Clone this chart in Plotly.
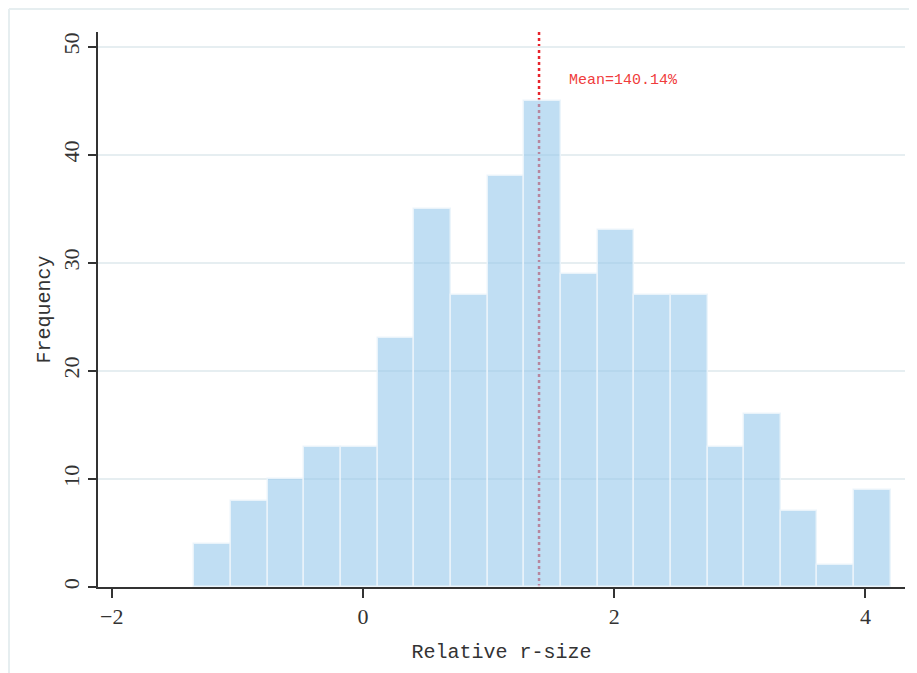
import plotly.graph_objects as go

# Data
bin_left = -1.344
bin_width = 0.2919
counts = [4, 8, 10, 13, 13, 23, 35, 27, 38, 45, 29, 33, 27, 27, 13, 16, 7, 2, 9]
mean_value = 1.4014
mean_label = "Mean=140.14%"
x_ticks = [-2, 0, 2, 4]
y_ticks = [0, 10, 20, 30, 40, 50]
x_title = "Relative r-size"
y_title = "Frequency"

centers = [bin_left + bin_width * (i + 0.5) for i in range(len(counts))]

W, H = 917, 673
ml, mr, mt, mb = 90, 20, 24, 94
pw, ph = W - ml - mr, H - mt - mb

fig = go.Figure()
fig.add_trace(go.Bar(
    x=centers, y=counts, width=[bin_width] * len(counts),
    marker=dict(color="rgba(150,200,235,0.6)",
                line=dict(color="rgba(235,244,251,0.9)", width=1.5)),
    hoverinfo="x+y", showlegend=False,
))

serif = "Liberation Serif"
mono = "Liberation Mono"

fig.update_layout(
    width=W, height=H,
    margin=dict(l=ml, r=mr, t=mt, b=mb),
    paper_bgcolor="white", plot_bgcolor="white",
    bargap=0,
    xaxis=dict(
        range=[-2.11, 4.315], tickmode="array", tickvals=x_ticks,
        ticks="outside", ticklen=9, tickwidth=1.5, tickcolor="#333",
        showline=True, linecolor="#333", linewidth=1.5,
        showgrid=False, zeroline=False,
        tickfont=dict(family=serif, size=22, color="#333"),
        title=dict(text=x_title, font=dict(family=mono, size=20, color="#333"), standoff=16),
    ),
    yaxis=dict(
        range=[0, 51.36], tickmode="array", tickvals=y_ticks, tickangle=-90,
        ticks="outside", ticklen=8, tickwidth=1.5, tickcolor="#333",
        showline=True, linecolor="#333", linewidth=1.5,
        showgrid=True, gridcolor="#e6eef1", gridwidth=1.5,
        zeroline=False,
        tickfont=dict(family=serif, size=22, color="#333"),
        title=dict(text=y_title, font=dict(family=mono, size=20, color="#333"), standoff=3),
    ),
    shapes=[
        dict(type="line", xref="x", yref="paper", x0=mean_value, x1=mean_value,
             y0=0, y1=1.003, line=dict(color="#e8232b", width=2.5, dash="dot"), layer="below"),
        dict(type="line", xref="paper", yref="paper",
             x0=(1 - ml) / pw, x1=1.2, y0=(H - mb - 1) / ph, y1=(H - mb - 1) / ph,
             line=dict(color="#e6eef0", width=2)),
        dict(type="line", xref="paper", yref="paper",
             x0=(1 - ml) / pw, x1=(1 - ml) / pw, y0=(H - mb - 1) / ph, y1=-0.3,
             line=dict(color="#e6eef0", width=2)),
    ],
    annotations=[
        dict(x=1.627, y=46.85, xref="x", yref="y", text=mean_label, showarrow=False,
             xanchor="left", yanchor="middle",
             font=dict(family=mono, size=15, color="#f03c3c")),
    ],
)

fig.write_html("out.html")
